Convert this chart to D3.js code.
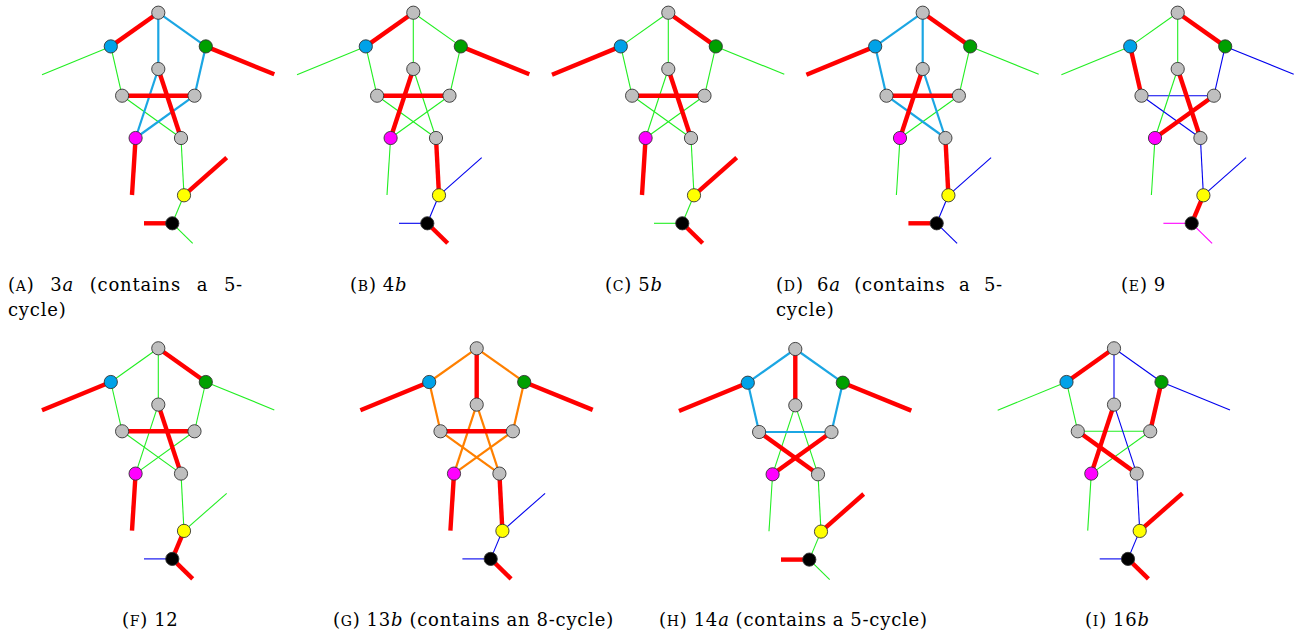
<!DOCTYPE html>
<html><head><meta charset="utf-8">
<script src="https://cdn.jsdelivr.net/npm/d3@7"></script>
<style>body{margin:0;background:#fff;} svg{display:block;} .cap{font-family:"DejaVu Serif","Liberation Serif",serif;}</style>
</head><body>
<svg id="c" width="1299" height="636"></svg>
<script>
// ---- data ----
const nodeNames = ["T","B","G","IT","IL","IR","M","R","Y","K"];
const nodeFillKey = ["gray","blue","green","gray","gray","gray","magenta","gray","yellow","black"];
// layout coordinates (graph units, top vertex at origin)
const nodeU = [0,-47.5,47.5,0,-36.2,36.2,-22.7,22.7,25.7,14];
const nodeV = [0,33.7,33.7,56.3,83,83,125.3,125.3,182.6,210.6];
const pendantNames = ["pB","pG","pM","pY","pK1","pK2"];
const pendantU = [-116.3,116,-26.3,68.4,-14.3,34.4];
const pendantV = [62,61.6,182.3,145,210.6,230.6];
const edgeList = [["T","B"],["T","G"],["T","IT"],["B","IL"],["G","IR"],["IL","IR"],["IT","M"],["IT","R"],["IL","R"],["IR","M"],["R","Y"],["Y","K"],
                  ["B","pB"],["G","pG"],["M","pM"],["Y","pY"],["K","pK1"],["K","pK2"]];
const panelIds = ["A","B","C","D","E","F","G","H","I"];
const panelEdgeCodes = [
  "rccgcrcrgcggg"+"rrrrg",
  "rggggrrgggrb"+"grgbbr",
  "grgggrgrgggg"+"rgrrgr",
  "crccgrrccgrb"+"rggbrb",
  "grgrbbgrbrbr"+"gbgbmm",
  "grgggrgrgggr"+"rgrgbr",
  "oorooroooorb"+"rrrbbr",
  "ccrcccggrrgg"+"rrgrrg",
  "rbbgrgrbrgbb"+"gbgrbr"
];
const panelTopX = [158.3,413.3,668.3,922.7,1177.7,158.3,476.7,795.3,1114];
const panelTopY = [12.7,12.7,12.7,12.7,12.7,348.3,348.3,349,348.3];
const captionNum = ["3","4","5","6","9","12","13","14","16"];
const captionLetter = ["a","b","b","a","","","b","a","b"];
const captionNote = ["(contains a 5-cycle)","","","(contains a 5-cycle)","","","(contains an 8-cycle)","(contains a 5-cycle)",""];
const captionX = [8,350,605,776,1121,122,333,659,1085];
const captionY = [291,291,291,291,291,626,626,626,626];
const captionWrapWidth = [235,0,0,227,0,0,0,0,0];
const captionRefWidthG = 281;

// ---- styles ----
const edgeStyle = {
  r:{color:"#ff0000",w:4.4,z:3},
  c:{color:"#1ba6e3",w:2.2,z:2},
  o:{color:"#ff8000",w:2.2,z:2},
  g:{color:"#22ee22",w:1.1,z:1},
  b:{color:"#0000ee",w:1.1,z:1},
  m:{color:"#ff00ff",w:1.1,z:1}
};
const fillColor = {gray:"#bfbfbf",blue:"#00a2e8",green:"#00a000",magenta:"#ff00ff",yellow:"#ffff00",black:"#000000"};

const svg = d3.select("#c");
const fs = 18;

function buildWords(pi){
  const words = [];
  words.push({parts:[["(",{}],[panelIds[pi],{sc:true}],[")",{}]]});
  words.push({parts:[[captionNum[pi],{}],[captionLetter[pi],{it:true}]]});
  const note = captionNote[pi];
  let line2 = null;
  if (captionWrapWidth[pi] > 0) {
    const nw = note.split(" ");
    const last = nw[nw.length-1];
    const idx = last.indexOf("-");
    nw.slice(0,-1).forEach(w=>words.push({parts:[[w,{}]]}));
    words.push({parts:[[last.slice(0,idx+1),{}]]});
    line2 = last.slice(idx+1);
  } else if (note) {
    note.split(" ").forEach(w=>words.push({parts:[[w,{}]]}));
  }
  return {words,line2};
}
function makeWord(parent,w,ls){
  const t = parent.append("text").attr("letter-spacing",ls);
  w.parts.forEach(([s,o])=>{
    const ts = t.append("tspan").text(s);
    if (o.sc) ts.attr("font-size",fs*0.78).text(s.toUpperCase());
    if (o.it) ts.attr("font-style","italic");
  });
  return t;
}
const tmp = svg.append("g").attr("class","cap").attr("font-size",fs);
const gw = buildWords(6).words.map(w=>makeWord(tmp,w,0));
const gwid = d3.sum(gw,t=>t.node().getComputedTextLength());
const nChars = d3.sum(buildWords(6).words,w=>d3.sum(w.parts,p=>p[0].length));
const baseSpace = fs*0.33;
const letterSp = (captionRefWidthG - gwid - baseSpace*(gw.length-1))/nChars;
tmp.remove();

panelIds.forEach((pid,pi)=>{
  const x = d3.scaleLinear().domain([0,100]).range([panelTopX[pi], panelTopX[pi]+100]);
  const y = d3.scaleLinear().domain([0,100]).range([panelTopY[pi], panelTopY[pi]+100]);
  const pos = {};
  nodeNames.forEach((n,i)=>pos[n]=[nodeU[i],nodeV[i]]);
  pendantNames.forEach((n,i)=>pos[n]=[pendantU[i],pendantV[i]]);
  const codes = panelEdgeCodes[pi];
  const edges = edgeList.map((e,i)=>({a:pos[e[0]],b:pos[e[1]],s:edgeStyle[codes[i]]}))
                        .sort((p,q)=>p.s.z-q.s.z);
  const g = svg.append("g");
  g.selectAll("line").data(edges).join("line")
    .attr("x1",d=>x(d.a[0])).attr("y1",d=>y(d.a[1]))
    .attr("x2",d=>x(d.b[0])).attr("y2",d=>y(d.b[1]))
    .attr("stroke",d=>d.s.color).attr("stroke-width",d=>d.s.w);
  g.selectAll("circle").data(nodeNames.map((n,i)=>({u:nodeU[i],v:nodeV[i],f:fillColor[nodeFillKey[i]]}))).join("circle")
    .attr("cx",d=>x(d.u)).attr("cy",d=>y(d.v)).attr("r",6.6)
    .attr("fill",d=>d.f).attr("stroke","#333").attr("stroke-width",0.9);

  const cap = svg.append("g").attr("class","cap").attr("font-size",fs).attr("fill","#000");
  const {words,line2} = buildWords(pi);
  const wNodes = words.map(w=>makeWord(cap,w,letterSp).attr("y",captionY[pi]));
  const widths = wNodes.map(t=>t.node().getComputedTextLength());
  let gap = baseSpace;
  if (captionWrapWidth[pi] > 0) {
    gap = (captionWrapWidth[pi]-d3.sum(widths))/(widths.length-1);
  }
  let cx = captionX[pi];
  wNodes.forEach((t,i)=>{ t.attr("x",cx); cx += widths[i]+gap; });
  if (line2) cap.append("text").attr("letter-spacing",letterSp).attr("x",captionX[pi]).attr("y",captionY[pi]+25).text(line2);
});
</script>
</body></html>
